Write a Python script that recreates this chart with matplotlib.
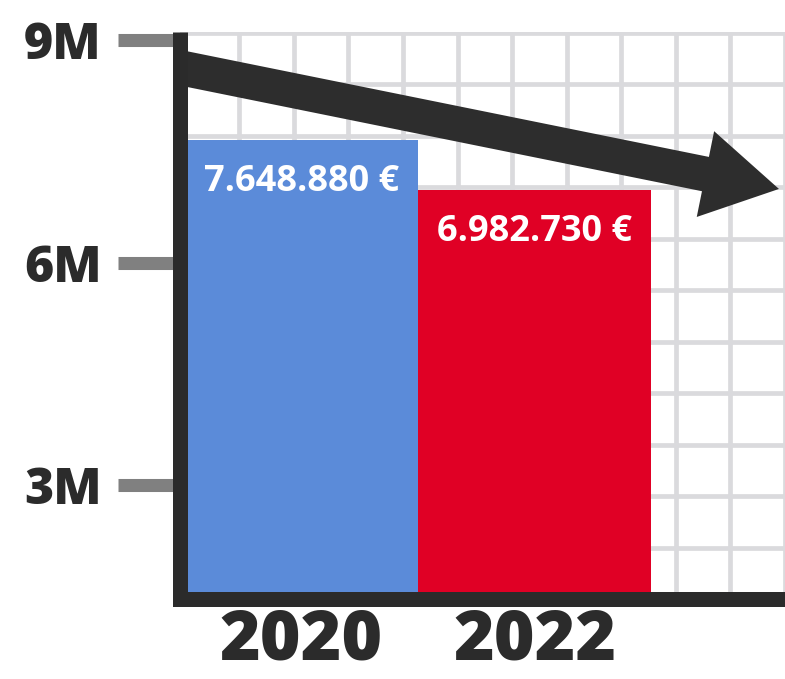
import numpy as np
import matplotlib
matplotlib.use('Agg')
import matplotlib.pyplot as plt

plt.rcParams['font.family'] = ['Open Sans', 'DejaVu Sans']

# data
years = ['2020', '2022']
values = [7648880, 6982730]
value_labels = ['7.648.880 €', '6.982.730 €']
bar_colors = ['#5b8bd9', '#e00025']
tick_values = [3, 6, 9]
tick_labels = ['3M', '6M', '9M']

dark = '#2b2b2b'

fig = plt.figure(figsize=(7.85, 6.79), dpi=100)
ax = fig.add_axes([0.2287, 0.1171, 0.7713, 0.8358])

vals_m = np.array(values) / 1e6
x = np.arange(len(years))
ax.bar(x, vals_m, width=1.0, color=bar_colors, zorder=2)

ax.set_xlim(-0.522, 2.0)
ax.set_ylim(1.49, 9.107)

# y ticks
ax.set_yticks(tick_values)
ax.set_yticklabels(tick_labels)
ax.tick_params(axis='y', which='major', length=45, width=9.4, color='#808080',
               pad=11, labelsize=36, labelcolor=dark)
for lab in ax.get_yticklabels():
    lab.set_fontweight(800)

# x ticks
ax.set_xticks(x)
ax.set_xticklabels(years)
ax.tick_params(axis='x', which='major', length=0, pad=5, labelsize=50, labelcolor=dark)
for lab in ax.get_xticklabels():
    lab.set_fontweight(800)

# background grid
ax.set_xticks(np.arange(-0.5, 2.1, 0.234), minor=True)
ax.set_yticks(np.arange(9.094, 1.4, -0.694), minor=True)
ax.tick_params(which='minor', length=0)
ax.grid(which='minor', color='#dadadd', lw=3.4, zorder=0)
ax.grid(which='major', visible=False)
ax.set_axisbelow(True)

# spines
ax.spines[['top', 'right']].set_visible(False)
for s in ['left', 'bottom']:
    ax.spines[s].set_linewidth(10.8)
    ax.spines[s].set_color(dark)
    ax.spines[s].set_zorder(5)
ax.spines['left'].set_capstyle('butt')
ax.spines['bottom'].set_capstyle('projecting')

# value labels inside bars
for i, v in enumerate(vals_m):
    ax.annotate(value_labels[i], xy=(x[i], v), xytext=(0, -42),
                textcoords='offset pixels', ha='center', va='center',
                color='white', fontsize=26, fontweight='bold', zorder=3)

# trend arrow
ax.annotate('', xy=(0.99, 0.7234), xytext=(0.006, 0.936),
            xycoords='axes fraction', textcoords='axes fraction',
            arrowprops=dict(arrowstyle='simple,head_length=0.9,head_width=1.05,tail_width=0.42',
                            mutation_scale=60, color='#2d2d2d', lw=0,
                            shrinkA=0, shrinkB=0),
            annotation_clip=False, zorder=4)

fig.savefig('out.png', dpi=100)
